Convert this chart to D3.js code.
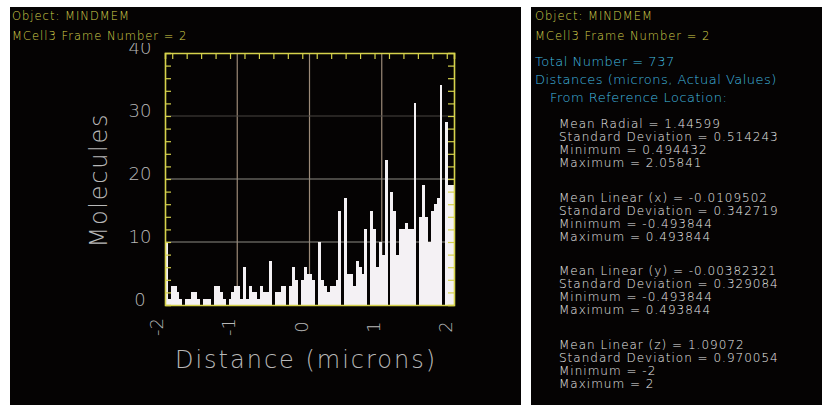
<!DOCTYPE html>
<html>
<head>
<meta charset="utf-8">
<script src="https://cdn.jsdelivr.net/npm/d3@7"></script>
<style>
html, body { margin: 0; padding: 0; background: #fff; }
svg { display: block; }
text { font-family: "DejaVu Sans", sans-serif; font-weight: 200; }
</style>
</head>
<body>
<svg id="chart" width="822" height="407"></svg>
<script>

// molecule counts per z bin, -2 .. 2 microns (100 bins)
var zCounts = [
	10, 1, 3, 3, 2, 1, 0, 1, 1, 2,
	2, 1, 0, 1, 1, 1, 0, 3, 3, 2,
	1, 0, 1, 2, 3, 3, 1, 6, 1, 3,
	2, 2, 1, 3, 2, 2, 7, 0, 2, 2,
	3, 3, 0, 3, 6, 4, 0, 4, 6, 5,
	5, 4, 0, 10, 4, 3, 2, 3, 3, 4,
	15, 0, 17, 5, 5, 3, 7, 6, 5, 12,
	0, 15, 12, 6, 10, 8, 23, 0, 18, 15,
	8, 12, 12, 13, 12, 12, 32, 0, 14, 19,
	14, 10, 15, 16, 17, 35, 0, 29, 19, 19
];

var xTickValues = [-2, -1, 0, 1, 2];
var yTickValues = [0, 10, 20, 30, 40];
var xGridValues = [-1, 0, 1];
var yGridValues = [10, 20, 30];

var headerLines = ["Object: MINDMEM", "MCell3 Frame Number = 2"];
var summaryLines = ["Total Number = 737", "Distances (microns, Actual Values)"];
var summarySub = "From Reference Location:";
var statGroups = [
	["Mean Radial = 1.44599", "Standard Deviation = 0.514243", "Minimum = 0.494432", "Maximum = 2.05841"],
	["Mean Linear (x) = -0.0109502", "Standard Deviation = 0.342719", "Minimum = -0.493844", "Maximum = 0.493844"],
	["Mean Linear (y) = -0.00382321", "Standard Deviation = 0.329084", "Minimum = -0.493844", "Maximum = 0.493844"],
	["Mean Linear (z) = 1.09072", "Standard Deviation = 0.970054", "Minimum = -2", "Maximum = 2"]
];

var YELLOW = "#d6d24c",
	CYAN = "#42bde0",
	GREY = "#b8b8b8",
	BAR = "#f4f1f4";

var svg = d3.select("#chart");

// panels
svg.append("rect").attr("x", 10).attr("y", 7).attr("width", 511).attr("height", 398).attr("fill", "#050303");
svg.append("rect").attr("x", 531).attr("y", 7).attr("width", 291).attr("height", 398).attr("fill", "#050303");

var x = d3.scaleLinear().domain([-2, 2]).range([165, 454]),
	y = d3.scaleLinear().domain([0, 40]).range([305, 53]);

var plot = svg.append("g");

// grid
plot.selectAll(".vgrid").data(xGridValues).enter().append("line")
	.attr("x1", function(d) { return x(d); })
	.attr("x2", function(d) { return x(d); })
	.attr("y1", y(40)).attr("y2", y(0))
	.attr("stroke", "#9c8a78").attr("stroke-width", 1.2);
plot.selectAll(".hgrid").data(yGridValues).enter().append("line")
	.attr("x1", x(-2)).attr("x2", x(2))
	.attr("y1", function(d) { return y(d); })
	.attr("y2", function(d) { return y(d); })
	.attr("stroke", function(d) { return d == 30 ? "#4a4642" : "#8e8c84"; })
	.attr("stroke-width", 1.2);

// bars
var binW = 4 / zCounts.length;
plot.selectAll(".bar").data(zCounts).enter().append("rect")
	.attr("x", function(d, i) { return x(-2 + i * binW); })
	.attr("width", function(d, i) { return x(-2 + (i + 1) * binW) - x(-2 + i * binW); })
	.attr("y", function(d) { return y(d); })
	.attr("height", function(d) { return y(0) - y(d); })
	.attr("shape-rendering", "crispEdges")
	.attr("fill", BAR);

// frame + ticks (yellow)
var topAxis = d3.axisBottom(x).tickValues(d3.range(-19, 20, 2).map(function(v) { return v / 10; }))
	.tickSize(6).tickFormat("");
plot.append("g").attr("transform", "translate(0," + y(40) + ")").call(topAxis);
var leftAxis = d3.axisRight(y).tickValues(d3.range(2, 40, 2)).tickSize(6).tickFormat("");
plot.append("g").attr("transform", "translate(" + x(-2) + ",0)").call(leftAxis);
var rightAxis = d3.axisLeft(y).tickValues(d3.range(2, 40, 2)).tickSize(6).tickFormat("");
plot.append("g").attr("transform", "translate(" + x(2) + ",0)").call(rightAxis);
var bottomAxis = d3.axisTop(x).tickValues([]).tickSize(0);
plot.append("g").attr("transform", "translate(0," + y(0) + ")").call(bottomAxis);
plot.selectAll(".domain").attr("stroke", YELLOW).attr("stroke-width", 1.6);
plot.selectAll(".tick line").attr("stroke", YELLOW).attr("stroke-width", 1.2);

// tick labels
plot.selectAll(".ylab").data(yTickValues).enter().append("text")
	.attr("x", 140)
	.attr("y", function(d) { return y(d) + 0.5; })
	.attr("text-anchor", "middle")
	.attr("font-size", 18)
	.attr("fill", GREY)
	.text(function(d) { return d; });
plot.selectAll(".xlab").data(xTickValues).enter().append("text")
	.attr("transform", function(d) { return "translate(" + (x(d) - 2) + ",327) rotate(-90)"; })
	.attr("text-anchor", "middle")
	.attr("font-size", 18)
	.attr("fill", GREY)
	.text(function(d) { return d; });

// axis titles
svg.append("text")
	.attr("transform", "translate(107,181) rotate(-90)")
	.attr("text-anchor", "middle")
	.attr("font-size", 24)
	.attr("textLength", 133)
	.attr("lengthAdjust", "spacing")
	.attr("fill", GREY)
	.text("Molecules");
svg.append("text")
	.attr("x", 305).attr("y", 368)
	.attr("text-anchor", "middle")
	.attr("font-size", 24)
	.attr("textLength", 260)
	.attr("lengthAdjust", "spacing")
	.attr("fill", GREY)
	.text("Distance (microns)");

// headers on both panels, the second line covers the top of the "40"
svg.append("rect").attr("x", 10).attr("y", 28).attr("width", 205).attr("height", 15).attr("fill", "#050303");
[12, 535].forEach(function(px) {
	svg.selectAll(null).data(headerLines).enter().append("text")
		.attr("x", px)
		.attr("y", function(d, i) { return 20 + i * 20; })
		.attr("font-size", 11.5)
		.attr("letter-spacing", 1)
		.attr("fill", YELLOW)
		.text(function(d) { return d; });
});

// statistics panel
svg.selectAll(".sum").data(summaryLines).enter().append("text")
	.attr("x", 535)
	.attr("y", function(d, i) { return 66 + i * 18; })
	.attr("font-size", 13)
	.attr("letter-spacing", 0.5)
	.attr("fill", CYAN)
	.text(function(d) { return d; });
svg.append("text")
	.attr("x", 550).attr("y", 102)
	.attr("font-size", 13)
	.attr("letter-spacing", 0.5)
	.attr("fill", CYAN)
	.text(summarySub);

var groupTop = [128, 202, 275, 349];
var groups = svg.selectAll(".grp").data(statGroups).enter().append("g")
	.attr("transform", function(d, i) { return "translate(559," + groupTop[i] + ")"; });
groups.selectAll("text").data(function(d) { return d; }).enter().append("text")
	.attr("y", function(d, i) { return i * 13; })
	.attr("font-size", 12)
	.attr("letter-spacing", 1)
	.attr("fill", "#ebebeb")
	.text(function(d) { return d; });

</script>
</body>
</html>
